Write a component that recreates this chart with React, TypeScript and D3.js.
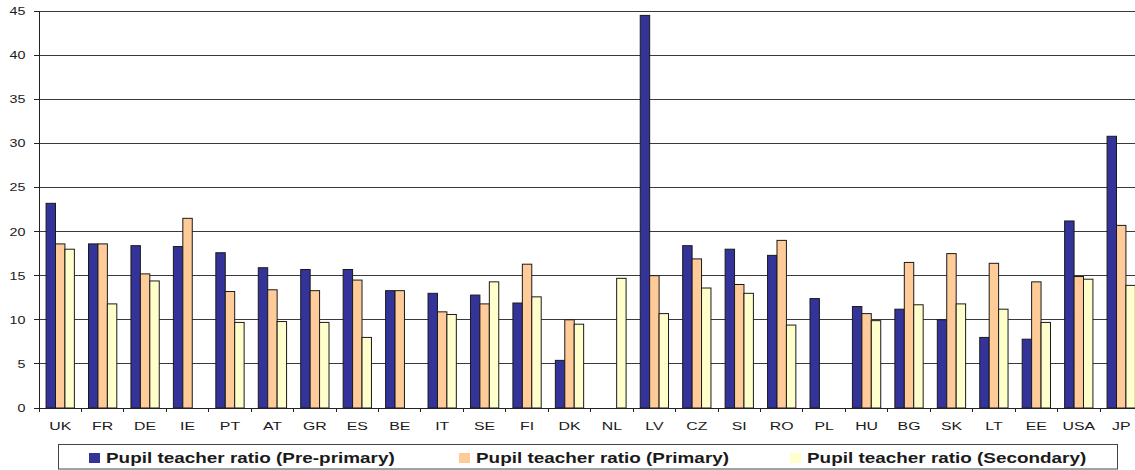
import React from "react";
import * as d3 from "d3";

const countries = ["UK", "FR", "DE", "IE", "PT", "AT", "GR", "ES", "BE", "IT", "SE", "FI", "DK", "NL", "LV", "CZ", "SI", "RO", "PL", "HU", "BG", "SK", "LT", "EE", "USA", "JP"];

const prePrimary: (number | null)[] = [23.2, 18.6, 18.4, 18.3, 17.6, 15.9, 15.7, 15.7, 13.3, 13.0, 12.8, 11.9, 5.4, null, 44.5, 18.4, 18.0, 17.3, 12.4, 11.5, 11.2, 10.0, 8.0, 7.8, 21.2, 30.8];
const primary: (number | null)[] = [18.6, 18.6, 15.2, 21.5, 13.2, 13.4, 13.3, 14.5, 13.3, 10.9, 11.8, 16.3, 10.0, null, 15.0, 16.9, 14.0, 19.0, null, 10.7, 16.5, 17.5, 16.4, 14.3, 14.9, 20.7];
const secondary: (number | null)[] = [18.0, 11.8, 14.4, null, 9.7, 9.8, 9.7, 8.0, null, 10.6, 14.3, 12.6, 9.5, 14.7, 10.7, 13.6, 13.0, 9.4, null, 9.9, 11.7, 11.8, 11.2, 9.7, 14.6, 13.9];

const seriesNames = [
  "Pupil teacher ratio (Pre-primary)",
  "Pupil teacher ratio (Primary)",
  "Pupil teacher ratio (Secondary)",
];
const seriesColors = ["#333399", "#FFCC99", "#FFFFCC"];
const seriesValues = [prePrimary, primary, secondary];

const yTicks = [0, 5, 10, 15, 20, 25, 30, 35, 40, 45];

const W = 1135;
const H = 470;
const left = 39;
const top = 11;
const bottom = 408;
// Category slots keep a fixed width; the last slot runs past the right edge.
const slot = 42.44;
const font = "'Liberation Sans', Arial, sans-serif";
// Text in this chart is drawn horizontally widened.
const stretch = 1.38;

function WideText(props: {
  x: number;
  y: number;
  anchor?: "start" | "middle" | "end";
  size: number;
  bold?: boolean;
  sx?: number;
  children: React.ReactNode;
}) {
  const { x, y, anchor = "start", size, bold, sx = stretch, children } = props;
  return (
    <text
      transform={`translate(${x},${y}) scale(${sx},1)`}
      textAnchor={anchor}
      fontFamily={font}
      fontSize={size}
      fontWeight={bold ? "bold" : "normal"}
      fill="#1a1a1a"
    >
      {children}
    </text>
  );
}

export default function App() {
  const x0 = d3
    .scaleBand<string>()
    .domain(countries)
    .range([left, left + slot * countries.length])
    .paddingInner(0)
    .paddingOuter(0);
  const x1 = d3
    .scaleBand<number>()
    .domain([0, 1, 2])
    .range([0, x0.bandwidth()])
    .paddingInner(0)
    .paddingOuter(0.75);
  const y = d3.scaleLinear().domain([0, 45]).range([bottom, top]);

  const legendItems = [
    { sq: 89, tx: 106 },
    { sq: 459, tx: 476 },
    { sq: 790, tx: 807 },
  ];

  return (
    <div style={{ position: "fixed", left: 0, top: 0 }}>
      <svg width={W} height={H} style={{ display: "block", background: "#fff" }}>
        <rect x={0} y={0} width={W} height={H} fill="#fff" />
        {/* horizontal gridlines */}
        {yTicks.filter((t) => t > 0).map((t) => (
          <line key={"g" + t} x1={left} x2={W} y1={y(t)} y2={y(t)} stroke="#3a3a3a" strokeWidth={1} shapeRendering="crispEdges" />
        ))}
        {/* bars */}
        {countries.map((c, i) => (
          <g key={c} transform={`translate(${x0(c)},0)`}>
            {seriesValues.map((vals, s) => {
              const v = vals[i];
              if (v == null) return null;
              return (
                <rect
                  key={s}
                  x={x1(s)!}
                  y={y(v)}
                  width={x1.bandwidth()}
                  height={y(0) - y(v)}
                  fill={seriesColors[s]}
                  stroke="#1a1a1a"
                  strokeWidth={1}
                />
              );
            })}
          </g>
        ))}
        {/* y axis */}
        <line x1={left} x2={left} y1={top} y2={bottom} stroke="#222" strokeWidth={1} shapeRendering="crispEdges" />
        {yTicks.map((t) => (
          <g key={"y" + t}>
            <line x1={left - 5} x2={left} y1={y(t)} y2={y(t)} stroke="#222" shapeRendering="crispEdges" />
            <WideText x={25.5} y={y(t) + 4} anchor="end" size={11} sx={1.3}>
              {t}
            </WideText>
          </g>
        ))}
        {/* x axis */}
        <line x1={left} x2={W} y1={bottom} y2={bottom} stroke="#222" strokeWidth={1} shapeRendering="crispEdges" />
        {countries.map((c) => (
          <g key={"x" + c}>
            <line x1={x0(c)!} x2={x0(c)!} y1={bottom} y2={bottom + 4} stroke="#222" shapeRendering="crispEdges" />
            <WideText x={x0(c)! + x0.bandwidth() / 2} y={430} anchor="middle" size={11.5}>
              {c}
            </WideText>
          </g>
        ))}
        {/* legend */}
        <rect x={58.5} y={444.5} width={1059} height={24.5} fill="#fff" stroke="#444" strokeWidth={1} />
        {legendItems.map((it, s) => (
          <g key={"l" + s}>
            <rect x={it.sq} y={453} width={11} height={10} fill={seriesColors[s]} />
            <WideText x={it.tx} y={462.5} size={14} bold sx={1.35}>
              {seriesNames[s]}
            </WideText>
          </g>
        ))}
      </svg>
    </div>
  );
}
